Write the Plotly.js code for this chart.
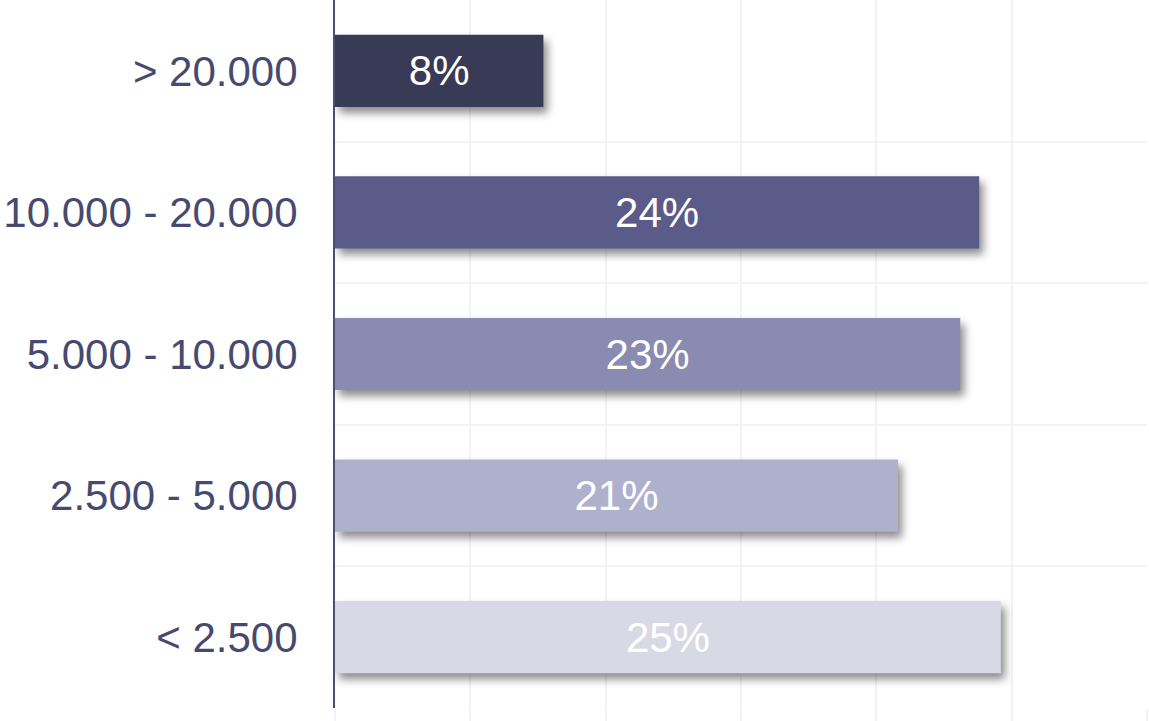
<!DOCTYPE html>
<html>
<head>
<meta charset="utf-8">
<script src="https://cdn.plot.ly/plotly-3.0.1.min.js"></script>
<style>
  html, body { margin: 0; padding: 0; background: #ffffff; }
  #chart { width: 1149px; height: 721px; }
  .barlayer .point path { filter: drop-shadow(4px 6px 4px rgba(0,0,0,0.45)); }
</style>
</head>
<body>
<div id="chart"></div>
<script>
const categories = ["> 20.000", "10.000 - 20.000", "5.000 - 10.000", "2.500 - 5.000", "< 2.500"];
const shares = [7.7, 23.8, 23.1, 20.8, 24.6];
const barColors = ["#393a56", "#5a5b88", "#898bb1", "#afb0cc", "#d9d9e5"];
const labels = shares.map(v => Math.round(v) + "%");

const FONT = "Liberation Sans, Arial, Helvetica, sans-serif";
const GRID = "#f3f3f3";

const trace = {
  type: "bar",
  orientation: "h",
  y: categories,
  x: shares,
  text: labels,
  textposition: "inside",
  insidetextanchor: "middle",
  textangle: 0,
  constraintext: "none",
  textfont: { family: FONT, size: 42, color: "#ffffff" },
  marker: { color: barColors, line: { width: 0 } },
  hoverinfo: "none"
};

const layout = {
  width: 1149,
  height: 721,
  margin: { l: 335, r: 2, t: 0, b: 13, pad: 0 },
  paper_bgcolor: "#ffffff",
  plot_bgcolor: "#ffffff",
  showlegend: false,
  bargap: 0.49,
  font: { family: FONT },
  xaxis: {
    range: [0, 30],
    dtick: 5,
    tick0: 0,
    showticklabels: false,
    showgrid: true,
    gridcolor: GRID,
    gridwidth: 2,
    zeroline: false,
    showline: false,
    ticks: "outside",
    ticklen: 13,
    tickwidth: 2,
    tickcolor: GRID,
    fixedrange: true
  },
  yaxis: {
    type: "category",
    autorange: "reversed",
    tickson: "boundaries",
    showgrid: true,
    gridcolor: GRID,
    gridwidth: 2,
    ticks: "",
    ticklabelstandoff: 27,
    tickfont: { family: FONT, size: 42, color: "#464a70" },
    showline: true,
    linecolor: "#4a4e78",
    linewidth: 2,
    zeroline: false,
    fixedrange: true
  }
};

Plotly.newPlot("chart", [trace], layout, { displayModeBar: false, staticPlot: true });
</script>
</body>
</html>
